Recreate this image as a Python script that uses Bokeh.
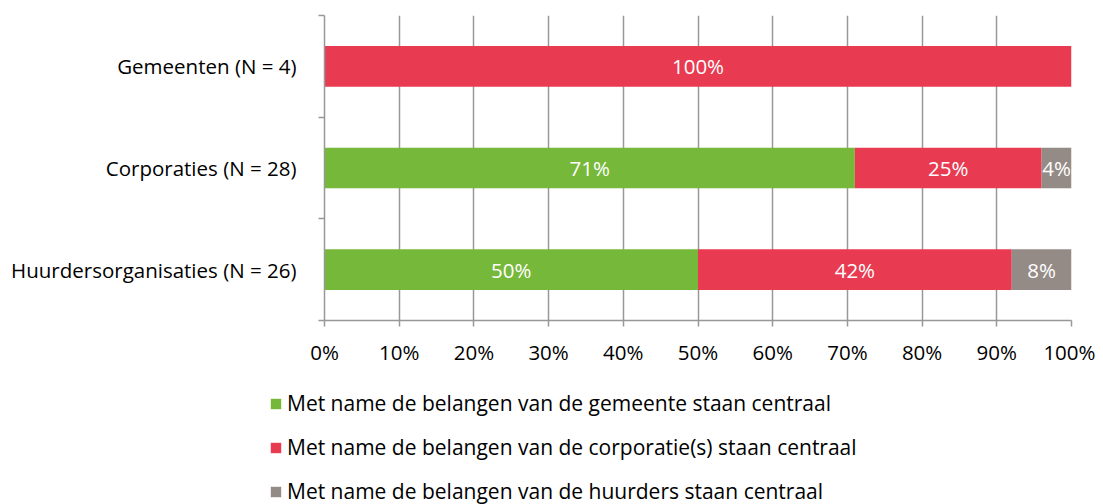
from bokeh.plotting import figure
from bokeh.layouts import column
from bokeh.models import ColumnDataSource, Range1d, FixedTicker, Legend, LegendItem
from bokeh.core.properties import value
from bokeh.embed import file_html
from bokeh.resources import INLINE

categories = ["Gemeenten (N = 4)", "Corporaties (N = 28)", "Huurdersorganisaties (N = 26)"]
gemeente = [0, 71, 50]
corporatie = [100, 25, 42]
huurders = [0, 4, 8]
series_names = [
    "Met name de belangen van de gemeente staan centraal",
    "Met name de belangen van de corporatie(s) staan centraal",
    "Met name de belangen van de huurders staan centraal",
]
colors = ["#76B83A", "#E83A51", "#958B86"]
x_ticks = [0, 10, 20, 30, 40, 50, 60, 70, 80, 90, 100]

FONT = "Open Sans"
FS = "20.5px"
n = len(categories)
ypos = [n - i - 0.5 for i in range(n)]

src = ColumnDataSource(dict(y=ypos, g=gemeente, c=corporatie, h=huurders))

p = figure(width=1095, height=385, x_range=Range1d(0, 100), y_range=Range1d(0, n),
           output_backend="svg", toolbar_location=None,
           min_border_left=324, min_border_right=24, min_border_top=15, min_border_bottom=65)
p.outline_line_color = None

p.hbar_stack(["g", "c", "h"], y="y", height=0.4, color=colors, source=src, line_color=None)

# value labels
lx, ly, lt = [], [], []
for i in range(n):
    left = 0
    for vals in (gemeente, corporatie, huurders):
        v = vals[i]
        if v > 0:
            lx.append(left + v / 2)
            ly.append(ypos[i])
            lt.append(f"{v}%")
        left += v
p.text(x=lx, y=ly, text=lt, text_align="center", text_baseline="middle",
       text_color="white", text_font=value(FONT), text_font_size=FS)

# x axis
xa = p.xaxis[0]
xa.ticker = FixedTicker(ticks=x_ticks)
xa.major_label_overrides = {t: f"{t}%" for t in x_ticks}
xa.axis_line_color = "#989898"
xa.axis_line_width = 1.5
xa.major_tick_line_color = "#989898"
xa.major_tick_line_width = 1.5
xa.major_tick_in = 0
xa.major_tick_out = 6
xa.minor_tick_line_color = None
xa.major_label_standoff = 11
xa.major_label_text_font = FONT
xa.major_label_text_font_size = FS
xa.major_label_text_color = "black"

# y axis
ya = p.yaxis[0]
ya.ticker = FixedTicker(ticks=ypos, minor_ticks=[0, 1, 2, 3])
ya.major_label_overrides = {y: c for y, c in zip(ypos, categories)}
ya.axis_line_color = "#989898"
ya.axis_line_width = 1.5
ya.major_tick_line_color = None
ya.major_tick_in = 0
ya.major_tick_out = 0
ya.minor_tick_line_color = "#989898"
ya.minor_tick_line_width = 1.5
ya.minor_tick_in = 0
ya.minor_tick_out = 6
ya.major_label_standoff = 22
ya.major_label_text_font = FONT
ya.major_label_text_font_size = FS
ya.major_label_text_color = "black"

p.xgrid.grid_line_color = "#989898"
p.xgrid.grid_line_width = 1.5
p.ygrid.grid_line_color = None

# legend figure (renderers kept outside its visible range; only the legend shows)
pl = figure(width=1095, height=119, x_range=Range1d(0, 100), y_range=Range1d(10, 11),
            output_backend="svg", toolbar_location=None,
            x_axis_location=None, y_axis_location=None,
            min_border_left=0, min_border_right=0, min_border_top=0, min_border_bottom=0)
pl.outline_line_color = None
pl.xgrid.grid_line_color = None
pl.ygrid.grid_line_color = None
rs = pl.hbar_stack(["g", "c", "h"], y="y", height=0.4, color=colors, source=src, line_color=None)

legend = Legend(items=[LegendItem(label=s, renderers=[r]) for s, r in zip(series_names, rs)],
                location=(269, -1), orientation="vertical",
                glyph_width=13, glyph_height=13, label_height=28, label_standoff=5,
                spacing=16, padding=0, margin=0, border_line_color=None,
                background_fill_alpha=0,
                label_text_font=FONT, label_text_font_size="21px", label_text_color="black")
pl.add_layout(legend, "center")

open("out.html", "w").write(file_html(column(p, column(pl)), INLINE))
